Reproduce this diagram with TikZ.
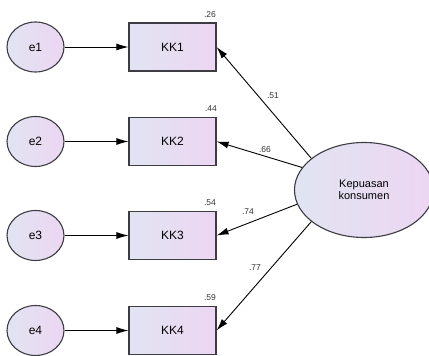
\documentclass[tikz,border=0pt]{standalone}
\usepackage{fontspec}
\setmainfont{Liberation Sans}
\usetikzlibrary{arrows.meta,shapes.geometric}
\definecolor{lbl}{RGB}{225,228,242}
\definecolor{lpk}{RGB}{236,214,242}
\definecolor{edge}{RGB}{60,60,66}
\tikzset{
  obs/.style={draw=edge,line width=1.1pt,left color=lbl,right color=lpk,minimum width=87pt,minimum height=48pt,inner sep=0pt,font=\fontsize{12}{13}\selectfont},
  err/.style={ellipse,draw=edge,line width=1.1pt,left color=lbl,right color=lpk,minimum width=57pt,minimum height=50pt,inner sep=0pt,font=\fontsize{12}{13}\selectfont},
  lat/.style={ellipse,draw=edge,line width=1.1pt,left color=lbl,right color=lpk,minimum width=139pt,minimum height=95pt,inner sep=0pt,align=center,font=\fontsize{11}{12}\selectfont},
  conn/.style={line width=0.9pt,-{Latex[length=12pt,width=7pt]}},
  num/.style={font=\fontsize{8.5}{9}\selectfont,inner sep=0pt,text=black!80}
}
\begin{document}
\begin{tikzpicture}[x=1pt,y=-1pt]
\useasboundingbox (0,0) rectangle (429,356);
\begin{scope}
\clip (0,0) rectangle (429,356);
\node[lat] (K) at (364,190) {Kepuasan\\konsumen};
\end{scope}
\node[obs] (b1) at (172.5,47) {KK1};
\node[obs] (b2) at (172.5,141.5) {KK2};
\node[obs] (b3) at (172.5,235.5) {KK3};
\node[obs] (b4) at (172.5,330.5) {KK4};
\node[err] (e1) at (35.5,47) {e1};
\node[err] (e2) at (35.5,141.5) {e2};
\node[err] (e3) at (35.5,235.5) {e3};
\node[err] (e4) at (35.5,330.5) {e4};
\foreach \i in {1,2,3,4} {\draw[conn] (e\i) -- (b\i);}
\draw[conn] (K.149) -- (b1.east);
\draw[conn] (K.160) -- (b2.east);
\draw[conn] (K.192) -- (b3.east);
\draw[conn] (K.211) -- (b4.east);
\node[num] (r1) at (210,15) {.26};
\node[num] (r2) at (211,109) {.44};
\node[num] (r3) at (210,203) {.54};
\node[num] (r4) at (210,298) {.59};
\node[num] (l1) at (273,96) {.51};
\node[num] (l2) at (265,150) {.66};
\node[num] (l3) at (248,212) {.74};
\node[num] (l4) at (255,268) {.77};
\end{tikzpicture}
\end{document}
